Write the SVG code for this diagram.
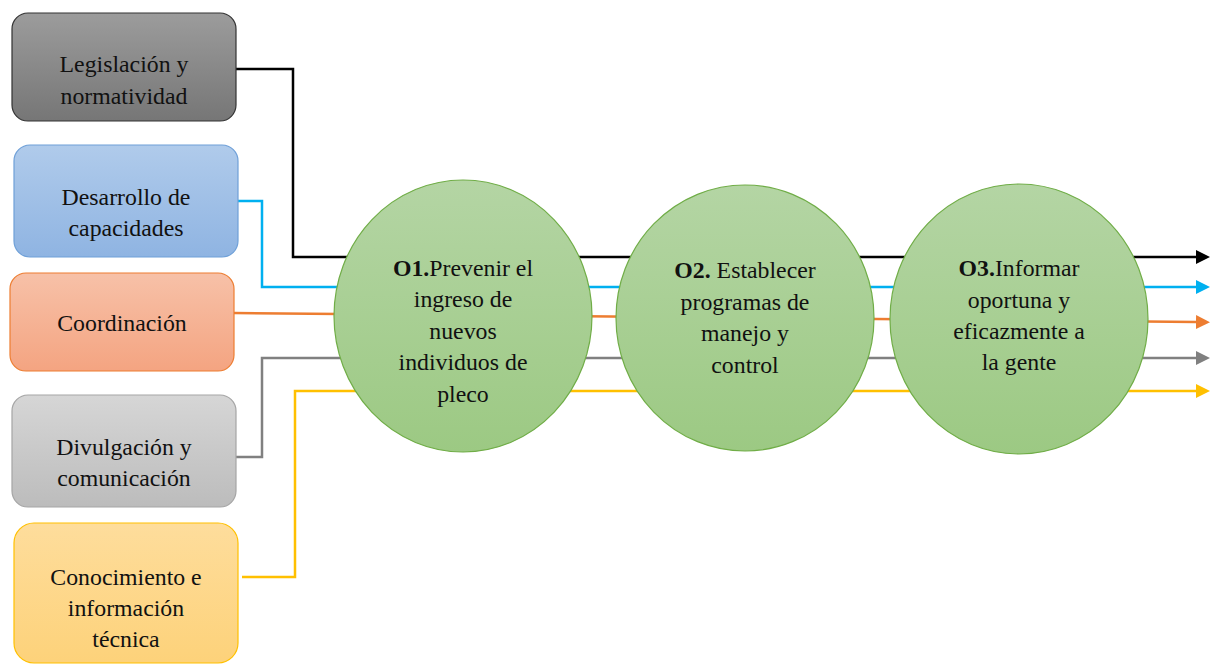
<svg xmlns="http://www.w3.org/2000/svg" width="1216" height="665" viewBox="0 0 1216 665">
<style>
text{font-family:"Liberation Serif","Times New Roman",serif;font-size:23.8px;fill:#111;text-anchor:middle}
.b{font-weight:bold}
.c{fill:url(#gG);stroke:#70ad47;stroke-width:1.2}
.ln{fill:none;stroke-width:2.5}
</style>
<defs>
<linearGradient id="gK" x1="0" y1="0" x2="0" y2="1"><stop offset="0" stop-color="#9c9c9c"/><stop offset="1" stop-color="#767676"/></linearGradient>
<linearGradient id="gB" x1="0" y1="0" x2="0" y2="1"><stop offset="0" stop-color="#b0cbeb"/><stop offset="1" stop-color="#8fb4e2"/></linearGradient>
<linearGradient id="gO" x1="0" y1="0" x2="0" y2="1"><stop offset="0" stop-color="#f7c1a8"/><stop offset="1" stop-color="#f4a481"/></linearGradient>
<linearGradient id="gS" x1="0" y1="0" x2="0" y2="1"><stop offset="0" stop-color="#d6d6d6"/><stop offset="1" stop-color="#bcbcbc"/></linearGradient>
<linearGradient id="gY" x1="0" y1="0" x2="0" y2="1"><stop offset="0" stop-color="#fedd9c"/><stop offset="1" stop-color="#fdd27a"/></linearGradient>
<linearGradient id="gG" x1="0" y1="0" x2="0" y2="1"><stop offset="0" stop-color="#b4d5a4"/><stop offset="1" stop-color="#9cc983"/></linearGradient>
<marker id="aK" viewBox="0 0 10 10" refX="0" refY="5" markerWidth="5.6" markerHeight="5.6" orient="auto" markerUnits="strokeWidth"><path d="M0,0L10,5L0,10z" fill="#000"/></marker>
<marker id="aB" viewBox="0 0 10 10" refX="0" refY="5" markerWidth="5.6" markerHeight="5.6" orient="auto" markerUnits="strokeWidth"><path d="M0,0L10,5L0,10z" fill="#00b0f0"/></marker>
<marker id="aO" viewBox="0 0 10 10" refX="0" refY="5" markerWidth="5.6" markerHeight="5.6" orient="auto" markerUnits="strokeWidth"><path d="M0,0L10,5L0,10z" fill="#ed7d31"/></marker>
<marker id="aS" viewBox="0 0 10 10" refX="0" refY="5" markerWidth="5.6" markerHeight="5.6" orient="auto" markerUnits="strokeWidth"><path d="M0,0L10,5L0,10z" fill="#808080"/></marker>
<marker id="aY" viewBox="0 0 10 10" refX="0" refY="5" markerWidth="5.6" markerHeight="5.6" orient="auto" markerUnits="strokeWidth"><path d="M0,0L10,5L0,10z" fill="#ffc000"/></marker>
</defs>
<g id="connectors">
<path class="ln" stroke="#000" d="M236,69H293V257H1196" marker-end="url(#aK)"/>
<path class="ln" stroke="#00b0f0" d="M238,201H262V287H1196" marker-end="url(#aB)"/>
<path class="ln" stroke="#ed7d31" d="M234,313L1196,322" marker-end="url(#aO)"/>
<path class="ln" stroke="#808080" d="M236,457H262V358H1196" marker-end="url(#aS)"/>
<path class="ln" stroke="#ffc000" d="M242,577H295V391H1196" marker-end="url(#aY)"/>
</g>
<g id="n1"><rect x="12" y="13" width="224" height="108" rx="16" fill="url(#gK)" stroke="#333" stroke-width="1.2"/><text x="124" y="72">Legislación y</text><text x="124" y="104">normatividad</text></g>
<g id="n2"><rect x="14" y="145" width="224" height="112" rx="16" fill="url(#gB)" stroke="#6fa0d8" stroke-width="1.2"/><text x="126" y="205">Desarrollo de</text><text x="126" y="236">capacidades</text></g>
<g id="n3"><rect x="10" y="273" width="224" height="98" rx="16" fill="url(#gO)" stroke="#ed7d31" stroke-width="1.2"/><text x="122" y="331">Coordinación</text></g>
<g id="n4"><rect x="12" y="395" width="224" height="112" rx="16" fill="url(#gS)" stroke="#a5a5a5" stroke-width="1.2"/><text x="124" y="455">Divulgación y</text><text x="124" y="486">comunicación</text></g>
<g id="n5"><rect x="14" y="523" width="224" height="140" rx="20" fill="url(#gY)" stroke="#ffc000" stroke-width="1.2"/><text x="126" y="585">Conocimiento e</text><text x="126" y="616">información</text><text x="126" y="647">técnica</text></g>
<g id="o1"><ellipse class="c" cx="463" cy="316" rx="129" ry="136"/><text x="463" y="276"><tspan class="b">O1.</tspan>Prevenir el</text><text x="463" y="307">ingreso de</text><text x="463" y="339">nuevos</text><text x="463" y="370">individuos de</text><text x="463" y="402">pleco</text></g>
<g id="o2"><ellipse class="c" cx="745" cy="318" rx="129" ry="133"/><text x="745" y="278"><tspan class="b">O2.</tspan> Establecer</text><text x="745" y="310">programas de</text><text x="745" y="341">manejo y</text><text x="745" y="373">control</text></g>
<g id="o3"><ellipse class="c" cx="1019" cy="319" rx="129" ry="135"/><text x="1019" y="276"><tspan class="b">O3.</tspan>Informar</text><text x="1019" y="308">oportuna y</text><text x="1019" y="339">eficazmente a</text><text x="1019" y="370">la gente</text></g>
</svg>
